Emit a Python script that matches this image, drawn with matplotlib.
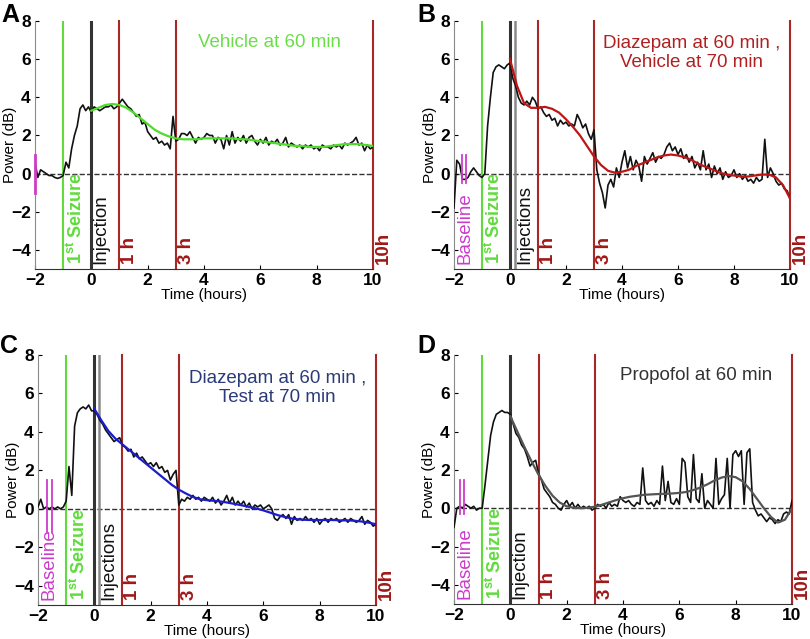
"""
Potenza EEG (dB) nel tempo dopo la prima crisi: 4 pannelli (A-D),
traccia grezza + curva di fit, con linee verticali di riferimento.
"""

import numpy as np
import matplotlib
matplotlib.use("Agg")
import matplotlib.pyplot as plt

plt.rcParams["font.family"] = ["Liberation Sans", "DejaVu Sans"]
plt.rcParams["mathtext.fontset"] = "custom"
plt.rcParams["mathtext.rm"] = "Liberation Sans"
plt.rcParams["mathtext.bf"] = "Liberation Sans:bold"

# ─────────────────────────────────────────────
# DATI
# ─────────────────────────────────────────────
# griglia temporale della traccia (ore) e della curva di fit
HOURS = np.round(np.arange(-2.0, 10.001, 0.1), 1)
FIT_HOURS = np.round(np.arange(0.0, 10.001, 0.25), 2)

TRACE_A = [
    0.6, -0.2, 0.2, 0.1, 0.0, -0.1, -0.1, -0.2, -0.25, -0.2,   # -2.0
    -0.1, 0.6, 0.3, 1.3, 2.0, 2.5, 3.4, 3.6, 3.3, 3.5,         # -1.0
    3.2, 3.5, 3.4, 3.3, 3.4, 3.5, 3.5, 3.6, 3.4, 3.5,          # 0.0
    3.7, 3.9, 3.7, 3.5, 3.4, 3.2, 3.0, 3.1, 2.6, 2.7,          # 1.0
    2.2, 2.0, 1.8, 1.9, 1.6, 1.7, 1.5, 1.6, 1.3, 3.0,          # 2.0
    1.7, 1.8, 2.1, 2.1, 2.0, 2.2, 1.9, 1.6, 1.9, 1.8,          # 3.0
    1.9, 2.1, 2.0, 2.0, 1.6, 1.9, 1.8, 1.3, 2.0, 1.5,          # 4.0
    2.2, 1.6, 1.9, 1.7, 2.0, 1.6, 1.9, 2.0, 1.7, 1.5,          # 5.0
    1.8, 1.6, 1.9, 1.5, 1.7, 1.6, 1.8, 1.5, 1.6, 1.9,          # 6.0
    1.4, 1.6, 1.5, 1.4, 1.5, 1.3, 1.5, 1.4, 1.5, 1.3,          # 7.0
    1.4, 1.2, 1.5, 1.4, 1.4, 1.3, 1.5, 1.4, 1.5, 1.3,          # 8.0
    1.6, 1.5, 1.6, 1.7, 1.9, 1.5, 1.6, 1.2, 1.5, 1.3,          # 9.0
    1.4,
]
TRACE_B = [
    -1.8, 0.7, 0.5, -0.3, -0.3, -0.2, 0.1, 0.3, 0.1, -0.1,
    -0.2, 0.0, 2.5, 4.0, 5.3, 5.6, 5.7, 5.6, 5.5, 5.7,
    5.8, 5.0, 4.6, 4.0, 3.7, 3.6, 3.8, 3.6, 4.0, 3.8,
    3.4, 3.5, 3.2, 3.0, 3.1, 2.8, 2.9, 2.5, 2.8, 2.6,
    2.7, 2.5, 2.6, 2.5, 3.1, 2.8, 2.4, 2.6, 2.1, 1.8,
    2.3, 0.2, -0.5, -1.0, -1.8, -0.6, -0.3, -0.7, 0.3, -0.2,
    0.6, 1.2, 0.3, 0.9, 0.2, 0.7, 0.4, -0.4, 0.9, 0.5,
    0.8, 1.1, 0.6, 0.9, 0.8, 1.0, 1.4, 1.6, 1.2, 1.4,
    1.0, 1.3, 0.8, 1.0, 0.6, 0.9, 0.3, 0.6, 0.2, 1.2,
    0.2, 0.5, -0.2, 0.4, 0.0, 0.3, -0.3, 0.1, -0.2, -0.1,
    0.2, -0.2, 0.0, -0.3, -0.1, -0.4, -0.3, -0.5, -0.2, -0.4,
    -0.3, 1.8, -0.2, 0.3, 0.0, -0.4, -0.6, -0.5, -0.8, -0.9,
    -1.3,
]
TRACE_C = [
    0.1, 0.5, 0.0, 0.1, 0.0, 0.1, 0.0, 0.1, 0.0, 0.1,
    0.4, 2.2, 0.7, 4.3, 5.0, 5.2, 5.3, 5.2, 5.4, 5.1,
    5.1, 4.9, 4.6, 4.4, 4.1, 3.9, 3.7, 3.5, 3.6, 3.7,
    3.3, 3.2, 3.0, 3.1, 2.7, 2.9, 2.6, 2.7, 2.5, 2.3,
    2.4, 2.2, 2.4, 2.1, 2.2, 1.9, 2.0, 1.5, 1.8, 2.0,
    0.2, 0.5, 0.4, 0.6, 0.5, 0.7, 0.5, 0.6, 0.4, 0.6,
    0.5, 0.4, 0.6, 0.3, 0.5, 0.2, 0.4, 0.7, 0.3, 0.6,
    0.2, 0.4, 0.2, 0.4, 0.1, 0.3, 0.0, 0.2, 0.1, 0.2,
    0.0, 0.1, 0.2, 0.0, -0.5, -0.6, -0.4, -0.3, -0.5, -0.3,
    -0.8, -0.4, -0.6, -0.5, -0.6, -0.4, -0.6, -0.5, -0.7, -0.5,
    -0.8, -0.6, -0.5, -0.7, -0.5, -0.6, -0.5, -0.7, -0.6, -0.5,
    -0.7, -0.5, -0.6, -0.7, -0.6, -0.4, -0.8, -0.6, -0.7, -0.9,
    -0.8,
]
TRACE_D = [
    -1.0, 0.0, 0.1, 0.0, 0.2, 0.1, 0.0, 0.1, -0.1, 0.0,
    0.0, 1.2, 2.5, 3.8, 4.5, 4.9, 5.0, 5.1, 5.0, 5.0,
    4.9, 4.4, 3.9, 3.7, 3.3, 3.1, 2.7, 2.2, 2.4, 2.5,
    1.8, 1.5, 1.0, 0.8, 0.6, 0.3, 0.2, 0.0, -0.1, 0.2,
    0.4, 0.1, 0.3, 0.0, 0.2, 0.0, 0.1, 0.0, 0.1, -0.1,
    0.0, 0.2, 0.1, 0.2, 0.0, 0.3, 0.1, 0.2, 0.1, 0.6,
    0.4, 0.3, 0.4, 0.2, 0.1, 0.3, 0.2, 2.1, 0.4, 0.2,
    0.3, 0.1, 0.4, 0.2, 2.2, 0.4, 1.4, 0.3, 0.2, 0.5,
    0.2, 2.6, 2.4, 0.6, 0.3, 2.8, 0.5, 0.3, 1.8, 0.0,
    0.4, 0.2, 0.0, 2.6, 0.2, 0.5, 0.7, 2.6, 0.0, 2.8,
    3.0, 2.7, 3.0, 0.2, 2.9, 3.1, 0.3, -0.1, -0.4, -0.3,
    -0.5, -0.7, -0.5, -0.6, -0.8, -0.6, -0.7, -0.3, -0.2, -0.3,
    0.4,
]

FIT_A = [3.3, 3.45, 3.6, 3.65, 3.6, 3.45, 3.2, 2.9, 2.6, 2.3, 2.1, 1.95,
         1.85, 1.8, 1.8, 1.8, 1.85, 1.85, 1.85, 1.85, 1.85, 1.8, 1.8, 1.75,
         1.7, 1.65, 1.6, 1.55, 1.5, 1.45, 1.45, 1.4, 1.4, 1.4, 1.45, 1.5,
         1.55, 1.55, 1.55, 1.5, 1.45]
FIT_B = [6.0, 4.6, 3.7, 3.45, 3.45, 3.5, 3.4, 3.2, 2.85, 2.45, 2.0, 1.45,
         0.9, 0.45, 0.15, 0.05, 0.1, 0.2, 0.4, 0.55, 0.7, 0.85, 0.95, 1.0,
         0.95, 0.85, 0.7, 0.5, 0.35, 0.2, 0.05, -0.05, -0.1, -0.15, -0.15,
         -0.1, -0.05, -0.05, -0.2, -0.6, -1.3]
FIT_C = [5.2, 4.6, 4.05, 3.65, 3.35, 3.05, 2.75, 2.45, 2.15, 1.85, 1.55,
         1.25, 1.0, 0.8, 0.62, 0.5, 0.45, 0.42, 0.38, 0.32, 0.25, 0.18, 0.1,
         0.02, -0.08, -0.2, -0.32, -0.42, -0.5, -0.55, -0.57, -0.58, -0.58,
         -0.58, -0.58, -0.6, -0.6, -0.62, -0.66, -0.72, -0.8]
FIT_D = [4.8, 4.0, 3.2, 2.45, 1.75, 1.15, 0.65, 0.3, 0.1, 0.02, 0.0, 0.02,
         0.08, 0.18, 0.3, 0.42, 0.52, 0.6, 0.65, 0.7, 0.72, 0.74, 0.75, 0.77,
         0.8, 0.85, 0.95, 1.08, 1.25, 1.45, 1.6, 1.68, 1.62, 1.4, 1.0, 0.5,
         0.0, -0.45, -0.75, -0.6, 0.0]

PANEL_LETTERS = ["A", "B", "C", "D"]
PANEL_TITLES = [
    "Vehicle at 60 min",
    "Diazepam at 60 min ,\nVehicle at 70 min",
    "Diazepam at 60 min ,\nTest at 70 min",
    "Propofol at 60 min",
]
INJECTION_LABELS = ["Injection", "Injections", "Injections", "Injection"]
# tempi delle iniezioni (ore): la seconda iniezione è a +10 min
INJECTION_TIMES = [[0.0], [0.0, 1 / 6], [0.0, 1 / 6], [0.0]]
MARK_TIMES = [1, 3, 10]
MARK_LABELS = ["1 h", "3 h", "10h"]

# ─────────────────────────────────────────────
# STILE
# ─────────────────────────────────────────────
GREEN = "#5fdc3c"
DARK_RED = "#a82828"
MAGENTA = "#cc3ccc"
TITLE_COLORS = ["#6ade48", "#b02020", "#2b3a7a", "#333333"]
FIT_COLORS = ["#4edc2a", "#c01515", "#1c1ccc", "#555555"]

# posizione degli assi in frazioni di figura [left, bottom, width, height]
AX_POS = [
    [0.0432, 0.579, 0.4173, 0.3881],
    [0.5605, 0.579, 0.4148, 0.3881],
    [0.0469, 0.0532, 0.4173, 0.3912],
    [0.5605, 0.0548, 0.4173, 0.3897],
]
LETTER_POS = [(0.002, 0.9656), (0.515, 0.9656), (0.0, 0.4476), (0.515, 0.4476)]
TITLE_XY = [(6.32, 6.86), (6.5, 6.3), (6.5, 6.3), (6.6, 6.95)]
BASELINE_X = [None, (-1.71, -1.57), (-1.68, -1.52), (-1.79, -1.63)]
BASELINE_Y = [None, (-0.5, 1.0), (-1.2, 1.5), (-0.3, 1.45)]


def draw_panel(ax, i, trace, fit):
    ax.set_xlim(-2, 10)
    ax.set_ylim(-5, 8)

    # linea di riferimento a 0 dB
    ax.plot([-2, 10], [0, 0], ls="--", color="#333333", lw=1.0, zorder=1)

    # linee verticali: prima crisi, iniezioni, 1h / 3h / 10h
    ax.axvline(-1, color=GREEN, lw=1.5, zorder=2)
    for k, t in enumerate(INJECTION_TIMES[i]):
        ax.axvline(t, color="#333333" if k == 0 else "#8a8a8a",
                   lw=2.2 if k == 0 else 1.8, zorder=2)
    for t in MARK_TIMES:
        ax.axvline(t, color=DARK_RED, lw=1.5, zorder=2, clip_on=False)

    # baseline (doppia linea magenta) o segmento sull'asse in A
    if BASELINE_X[i] is None:
        ax.plot([-2, -2], [-1.0, 1.0], color=MAGENTA, lw=2.0,
                clip_on=False, zorder=5)
    else:
        for bx in BASELINE_X[i]:
            ax.plot([bx, bx], BASELINE_Y[i], color=MAGENTA, lw=1.3, zorder=5)
        ax.text(-1.9, -4.72, "Baseline", rotation=90, ha="left", va="bottom",
                color=MAGENTA, fontsize=13.5)

    # traccia grezza e fit
    ax.plot(HOURS, trace, color="#111111", lw=1.2, zorder=3)
    ax.plot(FIT_HOURS, fit, color=FIT_COLORS[i], lw=1.6, zorder=4)

    # etichette verticali
    ax.text(-0.92, -4.72, r"1$^{\mathbf{st}}$ Seizure", rotation=90,
            ha="left", va="bottom", color=GREEN, fontsize=13,
            fontweight="bold")
    ax.text(INJECTION_TIMES[i][-1] + 0.05, -4.72, INJECTION_LABELS[i],
            rotation=90, ha="left", va="bottom", color="#111111",
            fontsize=13.5)
    for t, lab in zip(MARK_TIMES, MARK_LABELS):
        ax.text(t + 0.07, -4.72, lab, rotation=90, ha="left", va="bottom",
                color="#a01818", fontsize=13.5, fontweight="bold",
                clip_on=False)

    # titolo interno al pannello
    tx, ty = TITLE_XY[i]
    ax.text(tx, ty, PANEL_TITLES[i], ha="center", va="center",
            color=TITLE_COLORS[i], fontsize=13.5, linespacing=1.15)

    # assi stile MATLAB (box off)
    ax.spines["top"].set_visible(False)
    ax.spines["right"].set_visible(False)
    ax.spines["left"].set_color("#8a8a8a")
    ax.spines["bottom"].set_color("#333333")
    ax.set_xticks(range(-2, 11, 2))
    ax.set_yticks(range(-4, 9, 2))
    ax.tick_params(direction="in", length=3, labelsize=12.5, pad=3)
    for lab in ax.get_xticklabels() + ax.get_yticklabels():
        lab.set_fontweight("bold")
    ax.set_xlabel("Time (hours)", fontsize=11, labelpad=0)
    ax.set_ylabel("Power (dB)", fontsize=11)
    # etichetta y molto vicina ai tick, come nell'originale
    ax.yaxis.set_label_coords(-0.052, 0.5)


fig = plt.figure(figsize=(8.1, 6.39), dpi=100)
traces = [TRACE_A, TRACE_B, TRACE_C, TRACE_D]
fits = [FIT_A, FIT_B, FIT_C, FIT_D]

for i in range(4):
    ax = fig.add_axes(AX_POS[i])
    draw_panel(ax, i, traces[i], fits[i])
    fig.text(LETTER_POS[i][0], LETTER_POS[i][1], PANEL_LETTERS[i],
             fontsize=18, fontweight="bold", ha="left", va="baseline")

fig.savefig("out.png", dpi=100)
